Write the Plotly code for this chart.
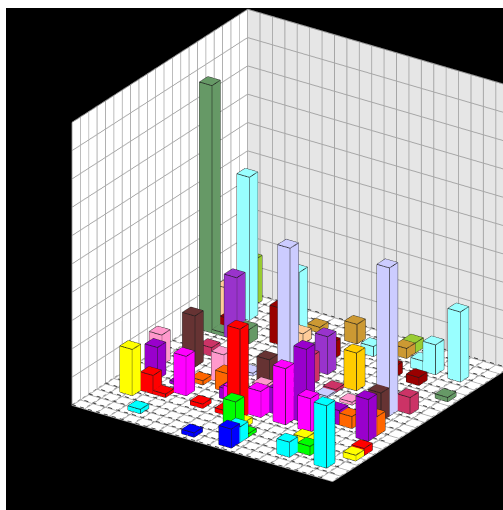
import math
import plotly.graph_objects as go

# (column, row) cell of each bar, its height, and its colour
bar_col = [2,4,3,4,2,1,5,3,1,2,4,10,12,12,11,12,11,7,9,9,5,7,6,3,4,3,2,1,2,1,
           10,18,19,17,16,17,20,14,14,15,10,7,12,10,7,6,6,11,11,14,13,13,19,18,19,17,19,15,15,19,16,17,16,20,20,14,13,11,9,8,10,7,9,12,16]
bar_row = [4,2,5,5,7,9,6,10,15,15,15,5,2,1,3,3,4,5,5,1,8,8,9,12,7,15,18,20,16,17,
           11,11,18,18,18,16,15,19,20,16,19,19,18,16,17,18,16,14,12,13,12,11,12,10,7,8,8,11,6,2,2,3,4,4,5,7,6,6,6,7,8,11,10,7,8]
bar_height = [1.63,0.15,0.65,0.12,1.13,1.06,1.39,1.8,8.73,0.12,0.5,3.18,0.55,0.67,1.12,0.12,0.2,0.15,0.15,0.15,0.15,0.65,1.0,0.3,0.1,2.2,5.05,1.6,0.4,1.18,
              4.9,5.23,2.47,1.05,0.35,0.28,0.15,0.35,0.35,0.39,0.69,0.2,0.35,0.58,0.35,2.2,1.3,1.33,1.0,1.33,0.1,0.05,0.59,1.0,1.47,0.42,0.67,0.1,1.18,2.2,0.53,0.32,0.3,0.2,0.25,2.6,1.98,0.92,0.76,0.38,0.6,0.1,1.02,0.9,0.5]
bar_color = ['#ffff00','#00ffff','#ff0000','#ff0000','#9900cc','#ff99cc','#ff00ff','#663333','#669966','#669966','#669966','#ff0000','#00ffff','#0000ff','#00ff00','#00ff00','#ffff00','#ff0000','#ff0000','#0000ff','#ff6600','#ff6600','#ff99cc','#cc3366','#9900cc','#9933cc','#99ffff','#99cc33','#990000','#ffcc99',
             '#ccccff','#ccccff','#99ffff','#99ffff','#99ffff','#990000','#669966','#cc9933','#99cc33','#990000','#cc9933','#cc9933','#99ffff','#990000','#ffcc99','#99ffff','#990000','#9933cc','#cc3366','#ffcc00','#cc3366','#ccccff','#cc3366','#663333','#9900cc','#ff6600','#ff6600','#ff99cc','#ff00ff','#00ffff','#00ffff','#00ff00','#ffff00','#ffff00','#ff0000','#9900cc','#ff00ff','#ff00ff','#ff00ff','#9900cc','#ff99cc','#ccccff','#663333','#9900cc','#9900cc']

grid_ticks_x = list(range(22))
grid_ticks_y = list(range(22))
grid_ticks_z = list(range(11))
X0, X1, Y0, Y1, Z0, Z1 = 0, 21, 0, 21, 0, 10

HALF = 0.5
vx, vy, vz, fi, fj, fk, fc = [], [], [], [], [], [], []
ex, ey, ez = [], [], []
QUADS = [(0,1,2,3),(4,5,6,7),(0,1,5,4),(1,2,6,5),(2,3,7,6),(3,0,4,7)]
EDGES = [(0,1),(1,2),(2,3),(3,0),(4,5),(5,6),(6,7),(7,4),(0,4),(1,5),(2,6),(3,7)]
for c, r, h, col in zip(bar_col, bar_row, bar_height, bar_color):
    base = len(vx)
    corners = [(c-HALF,r-HALF,0),(c+HALF,r-HALF,0),(c+HALF,r+HALF,0),(c-HALF,r+HALF,0),
               (c-HALF,r-HALF,h),(c+HALF,r-HALF,h),(c+HALF,r+HALF,h),(c-HALF,r+HALF,h)]
    for p in corners:
        vx.append(p[0]); vy.append(p[1]); vz.append(p[2])
    for a,b,cc,d in QUADS:
        fi += [base+a, base+a]; fj += [base+b, base+cc]; fk += [base+cc, base+d]; fc += [col, col]
    for a,b in EDGES:
        ex += [corners[a][0], corners[b][0], None]
        ey += [corners[a][1], corners[b][1], None]
        ez += [corners[a][2], corners[b][2], None]

fig = go.Figure()
fig.add_trace(go.Mesh3d(x=vx, y=vy, z=vz, i=fi, j=fj, k=fk, facecolor=fc, flatshading=True,
                        lighting=dict(ambient=1, diffuse=0, specular=0, fresnel=0, roughness=1),
                        hoverinfo='skip', showscale=False))
fig.add_trace(go.Scatter3d(x=ex, y=ey, z=ez, mode='lines', line=dict(color='#1c1c1c', width=1.5),
                           hoverinfo='skip', showlegend=False))

# floor grid: short dark dashes lying on the floor
FLOOR = 0.03
DASH_ON, DASH_PERIOD = 0.32, 0.64
fx, fy, fz = [], [], []
gx, gy, gz = [], [], []
dashes = [n * DASH_PERIOD for n in range(int(21 / DASH_PERIOD))]
for r in grid_ticks_y:
    off = 0.32 if r % 2 else 0.0
    for d in dashes:
        fx += [d + off, d + off + DASH_ON, None]; fy += [r, r, None]; fz += [FLOOR, FLOOR, None]
for c in grid_ticks_x:
    off = 0.32 if c % 2 else 0.0
    for d in dashes:
        gx += [c, c, None]; gy += [d + off, d + off + DASH_ON, None]; gz += [FLOOR, FLOOR, None]
fig.add_trace(go.Scatter3d(x=fx, y=fy, z=fz, mode='lines', line=dict(color='#2a2a2a', width=1.5),
                           hoverinfo='skip', showlegend=False))
fig.add_trace(go.Scatter3d(x=gx, y=gy, z=gz, mode='lines', line=dict(color='#777777', width=1),
                           hoverinfo='skip', showlegend=False))
# back corner and wall outlines
fig.add_trace(go.Scatter3d(x=[X0, X0, None, X0, X1, None, X0, X0],
                           y=[Y1, Y1, None, Y1, Y1, None, Y0, Y1],
                           z=[Z0, Z1, None, Z1, Z1, None, Z1, Z1],
                           mode='lines', line=dict(color='#777777', width=1.5),
                           hoverinfo='skip', showlegend=False))

t = math.atan(0.6738); ph = math.asin(0.4338)
right = (math.cos(t), math.sin(t), 0)
up = (-math.sin(ph)*math.sin(t), math.sin(ph)*math.cos(t), math.cos(ph))
view = (math.sin(t)*math.cos(ph), -math.cos(t)*math.cos(ph), math.sin(ph))
R = 2.0
UNIT = 250.0
center = tuple(-(35.5/UNIT)*right[n] - (13.5/UNIT)*up[n] for n in range(3))
eye = tuple(center[n] + R*view[n] for n in range(3))

def axis(bg, ticks, rng):
    return dict(range=rng, tickmode='array', tickvals=ticks, showticklabels=False, title='',
                showbackground=True, backgroundcolor=bg, gridcolor='#a6a6a6', gridwidth=2,
                showline=False, zeroline=False, showspikes=False, autorange=False)

fig.update_layout(
    width=503, height=510, margin=dict(l=0, r=0, t=0, b=0), paper_bgcolor='white', showlegend=False,
    scene=dict(
        domain=dict(x=[6/503, 1], y=[0, 1-8/510]), bgcolor='black',
        aspectmode='manual', aspectratio=dict(x=1.252, y=1.252, z=1.252),
        xaxis=axis('#ffffff', grid_ticks_x, [X0, X1]),
        yaxis=axis('#e6e6e6', grid_ticks_y, [Y0, Y1]),
        zaxis=axis('#ffffff', grid_ticks_z, [Z0, Z1]),
        camera=dict(projection=dict(type='orthographic'), up=dict(x=0, y=0, z=1),
                    center=dict(x=center[0], y=center[1], z=center[2]),
                    eye=dict(x=eye[0], y=eye[1], z=eye[2])),
    ),
)
fig.write_html("out.html", config=dict(displayModeBar=False), post_script="document.body.style.margin='0';")
